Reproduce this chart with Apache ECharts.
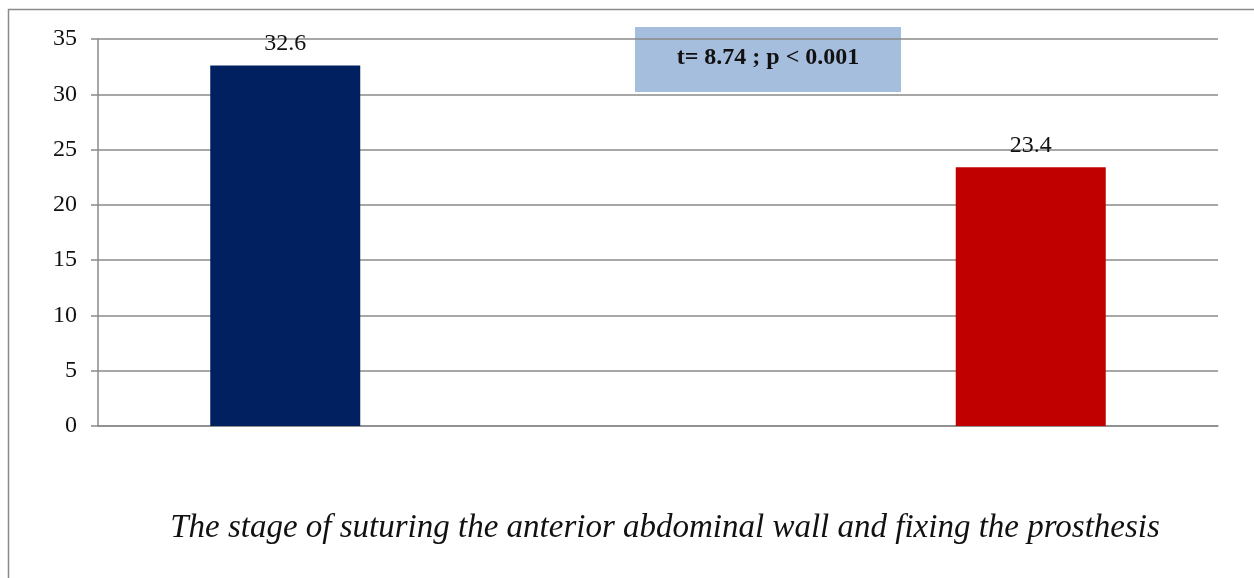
<!DOCTYPE html>
<html>
<head>
<meta charset="utf-8">
<script src="https://cdn.jsdelivr.net/npm/echarts@6/dist/echarts.min.js"></script>
<style>
  html, body { margin: 0; padding: 0; background: #fff; }
  #chart { width: 1254px; height: 578px; }
</style>
</head>
<body>
<div id="chart"></div>
<script>
// Mean duration of the stage, one bar per group
const categories = ['The stage of suturing the anterior abdominal wall and fixing the prosthesis'];
const groupA = [32.6];
const groupB = [23.4];
const yTicks = { min: 0, max: 35, interval: 5 };
const statText = 't= 8.74 ; p < 0.001';

const serif = '"Liberation Serif", "Times New Roman", serif';
const chart = echarts.init(document.getElementById('chart'), null, { renderer: 'canvas' });

const labelStyle = {
  show: true,
  position: 'top',
  distance: 10,
  fontFamily: serif,
  fontSize: 24,
  color: '#111'
};

chart.setOption({
  animation: false,
  grid: { left: 98, right: 36, top: 39, bottom: 152, containLabel: false, outerBoundsMode: 'none' },
  xAxis: {
    type: 'category',
    data: categories,
    axisLine: { show: true, lineStyle: { color: '#8a8a8a', width: 1.5 } },
    axisTick: { show: false },
    axisLabel: { show: false },
    name: categories[0],
    nameLocation: 'middle',
    nameGap: 86,
    nameTextStyle: {
      fontFamily: serif,
      fontStyle: 'italic',
      fontSize: 33,
      color: '#111',
      padding: [0, 0, 0, 14]
    }
  },
  yAxis: {
    type: 'value',
    min: yTicks.min,
    max: yTicks.max,
    interval: yTicks.interval,
    axisLine: { show: true, lineStyle: { color: '#8a8a8a', width: 1.5 } },
    axisTick: { show: true, length: 7, lineStyle: { color: '#8a8a8a', width: 1.5 } },
    axisLabel: { fontFamily: serif, fontSize: 24, color: '#111', margin: 21 },
    splitLine: { show: true, lineStyle: { color: '#8a8a8a', width: 1.5 } }
  },
  series: [
    {
      name: 'Group A',
      type: 'bar',
      data: groupA,
      barWidth: 150,
      barGap: '397%',
      itemStyle: { color: '#002060' },
      label: labelStyle
    },
    {
      name: 'Group B',
      type: 'bar',
      data: groupB,
      barWidth: 150,
      itemStyle: { color: '#C00000' },
      label: labelStyle
    }
  ],
  graphic: [
    // chart frame
    {
      type: 'rect',
      shape: { x: 8.5, y: 9.5, width: 1400, height: 800 },
      style: { fill: null, stroke: '#8a8a8a', lineWidth: 1.5 },
      silent: true,
      z: 0
    },
    // test statistic box
    {
      type: 'group',
      left: 635,
      top: 27,
      z: 100,
      children: [
        {
          type: 'rect',
          shape: { x: 0, y: 0, width: 266, height: 65 },
          style: { fill: 'rgba(150,179,215,0.85)' }
        },
        {
          type: 'text',
          x: 133,
          y: 31,
          style: {
            text: statText,
            fontFamily: serif,
            fontWeight: 'bold',
            fontSize: 24,
            fill: '#111',
            align: 'center',
            verticalAlign: 'middle'
          }
        }
      ]
    }
  ]
});
</script>
</body>
</html>
